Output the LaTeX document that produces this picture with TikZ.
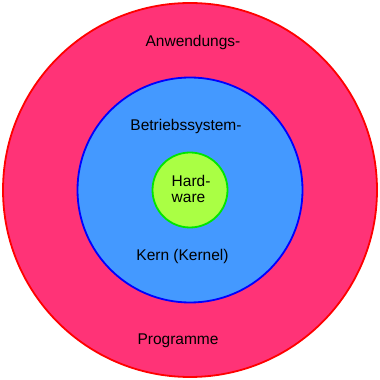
\documentclass[tikz,border=0pt]{standalone}
\usepackage{fontspec}
\setmainfont{Liberation Sans}
\definecolor{pinkfill}{HTML}{FF3377}
\definecolor{bluefill}{HTML}{4499FF}
\definecolor{greenfill}{HTML}{AAFF44}
\begin{document}
\begin{tikzpicture}[x=1pt,y=1pt,
  ring/.style={circle,inner sep=0pt,line width=1.8pt},
  lbl/.style={font=\fontsize{15.5}{16}\selectfont,inner sep=0pt,anchor=base}]
\useasboundingbox (0,0) rectangle (380,380);
\node[ring,draw=red,fill=pinkfill,minimum size=374pt] (app) at (190,190) {};
\node[ring,draw=blue,fill=bluefill,minimum size=225pt] (os) at (190,190) {};
\node[ring,draw={rgb,255:red,0;green,230;blue,0},fill=greenfill,minimum size=75pt] (hw) at (190,190) {};
\node[lbl] (t1) at (193,333) {Anwendungs-};
\node[lbl] (t2) at (186,249) {Betriebssystem-};
\node[lbl,align=left,anchor=base west] (t3) at (171.5,177) {Hard-\\ware};
\node[lbl] (t4) at (182.5,119) {Kern (Kernel)};
\node[lbl] (t5) at (178,35) {Programme};
\end{tikzpicture}
\end{document}
